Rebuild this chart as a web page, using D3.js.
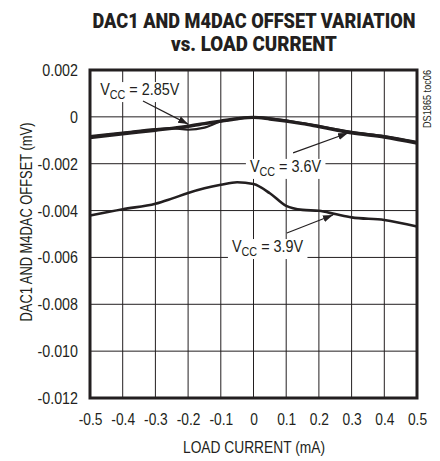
<!DOCTYPE html>
<html>
<head>
<meta charset="utf-8">
<script src="https://cdn.jsdelivr.net/npm/d3@7"></script>
<style>
  body { margin: 0; background: #fff; }
  text { font-family: "Liberation Sans", Arial, sans-serif; fill: #231f20; }
</style>
</head>
<body>
<div id="chart"></div>
<script>
// data
var loadCurrent = [-0.5, -0.4, -0.3, -0.25, -0.2, -0.15, -0.1, -0.05, 0, 0.05, 0.1, 0.15, 0.2, 0.25, 0.3, 0.4, 0.5];
var vcc285 = [-0.00082, -0.00067, -0.00052, -0.00048, -0.00055, -0.00046, -0.00020, -0.00008, -0.00001, -0.00006, -0.00015, -0.00027, -0.00038, -0.00052, -0.00064, -0.00082, -0.00107];
var vcc36  = [-0.00088, -0.00072, -0.00057, -0.00049, -0.00040, -0.00029, -0.00018, -0.00008, -0.00002, -0.00009, -0.00018, -0.00029, -0.00042, -0.00055, -0.00068, -0.00086, -0.00112];
var vcc39  = [-0.00421, -0.00394, -0.00371, -0.00349, -0.00325, -0.00305, -0.00290, -0.00279, -0.00287, -0.00326, -0.00380, -0.00397, -0.00401, -0.00415, -0.00429, -0.00440, -0.00468];
var xTicks = [-0.5, -0.4, -0.3, -0.2, -0.1, 0, 0.1, 0.2, 0.3, 0.4, 0.5];
var yTicks = [0.002, 0, -0.002, -0.004, -0.006, -0.008, -0.010, -0.012];
var yTickLabels = ["0.002", "0", "-0.002", "-0.004", "-0.006", "-0.008", "-0.010", "-0.012"];

// set the dimensions and margins of the graph
var margin = {top: 70, right: 23, bottom: 63, left: 90},
    width = 440 - margin.left - margin.right,
    height = 461 - margin.top - margin.bottom;

var svg0 = d3.select("#chart")
  .append("svg")
    .attr("width", 440)
    .attr("height", 461);

var svg = svg0.append("g")
    .attr("transform", "translate(" + margin.left + "," + margin.top + ")");

var x = d3.scaleLinear().domain([-0.5, 0.5]).range([0, width]);
var y = d3.scaleLinear().domain([-0.012, 0.002]).range([height, 0]);

// squeeze text to look like a condensed face
function condense(sel, k) {
  sel.each(function() {
    var w = this.getComputedTextLength();
    d3.select(this).attr("textLength", w * k).attr("lengthAdjust", "spacingAndGlyphs");
  });
}

// title, squeezed with a transform so its box stays inside the page
function titleLine(txt, ty, w) {
  var g = svg0.append("g");
  var t = g.append("text")
    .attr("text-anchor", "middle")
    .style("font-family", "Roboto, sans-serif")
    .style("font-size", "21px").style("font-weight", "900")
    .text(txt);
  var k = w / t.node().getComputedTextLength();
  g.attr("transform", "translate(254," + ty + ") scale(" + k + ",1)");
}
titleLine("DAC1 AND M4DAC OFFSET VARIATION", 28, 323);
titleLine("vs. LOAD CURRENT", 51, 166);

// grid
svg.append("g")
  .selectAll("line")
  .data(xTicks)
  .enter()
  .append("line")
    .attr("x1", function(d) { return x(d); })
    .attr("x2", function(d) { return x(d); })
    .attr("y1", 0).attr("y2", height)
    .style("stroke", "#231f20").style("stroke-width", 1);
svg.append("g")
  .selectAll("line")
  .data(yTicks)
  .enter()
  .append("line")
    .attr("x1", 0).attr("x2", width)
    .attr("y1", function(d) { return y(d); })
    .attr("y2", function(d) { return y(d); })
    .style("stroke", "#231f20").style("stroke-width", 1);

// axes (labels only)
var xAxis = svg.append("g")
  .attr("transform", "translate(0," + height + ")")
  .call(d3.axisBottom(x).tickValues(xTicks).tickSize(0).tickPadding(16)
    .tickFormat(function(d) { return d === 0 ? "0" : d3.format(".1f")(d).replace("−", "-"); }));
xAxis.select(".domain").remove();
xAxis.attr("font-family", null).attr("font-size", null);
xAxis.selectAll("text").style("font-size", "16px");
condense(xAxis.selectAll("text"), 0.86);

var yAxis = svg.append("g")
  .call(d3.axisLeft(y).tickValues(yTicks).tickSize(0).tickPadding(12)
    .tickFormat(function(d, i) { return yTickLabels[i]; }));
yAxis.select(".domain").remove();
yAxis.attr("font-family", null).attr("font-size", null);
yAxis.selectAll("text").style("font-size", "17px");
condense(yAxis.selectAll("text"), 0.84);

// axis titles
condense(svg0.append("text")
  .attr("x", 254).attr("y", 453)
  .attr("text-anchor", "middle")
  .style("font-size", "16px")
  .text("LOAD CURRENT (mA)"), 0.86);
svg0.append("text")
  .attr("transform", "translate(32,222) rotate(-90)")
  .attr("text-anchor", "middle")
  .style("font-size", "17px")
  .attr("textLength", 199).attr("lengthAdjust", "spacingAndGlyphs")
  .text("DAC1 AND M4DAC OFFSET (mV)");
svg0.append("text")
  .attr("transform", "translate(431,99) rotate(-90)")
  .attr("text-anchor", "middle")
  .style("font-size", "10px")
  .attr("textLength", 58).attr("lengthAdjust", "spacingAndGlyphs")
  .text("DS1865 toc06");

// curves
var line = d3.line()
  .x(function(d) { return x(d[0]); })
  .y(function(d) { return y(d[1]); })
  .curve(d3.curveMonotoneX);

[[vcc36, 3.4], [vcc285, 2.2], [vcc39, 2.6]].forEach(function(s) {
  svg.append("path")
    .datum(loadCurrent.map(function(c, i) { return [c, s[0][i]]; }))
    .attr("d", line)
    .style("fill", "none")
    .style("stroke", "#231f20")
    .style("stroke-width", s[1]);
});

// frame
svg.append("rect")
  .attr("x", 0).attr("y", 0)
  .attr("width", width).attr("height", height)
  .style("fill", "none").style("stroke", "#231f20").style("stroke-width", 3);

// labels with arrows
svg0.append("defs").append("marker")
  .attr("id", "arr").attr("viewBox", "0 0 10 10")
  .attr("refX", 10).attr("refY", 5)
  .attr("markerWidth", 10).attr("markerHeight", 10)
  .attr("markerUnits", "userSpaceOnUse")
  .attr("orient", "auto")
  .append("path").attr("d", "M0,1.5L10,5L0,8.5Z").style("fill", "#231f20");

var labels = [
  {v: "2.85V", lx: -0.469, ly: 0.00093, ax: [-0.338, -0.200], ay: [0.00068, -0.00031]},
  {v: "3.6V", lx: -0.011, ly: -0.00235, ax: [0.121, 0.289], ay: [-0.00154, -0.00069]},
  {v: "3.9V", lx: -0.066, ly: -0.00577, ax: [0.102, 0.243], ay: [-0.00496, -0.00419]}
];

labels.forEach(function(l) {
  var t = svg.append("text")
    .attr("x", x(l.lx)).attr("y", y(l.ly))
    .style("font-size", "16px");
  t.append("tspan").text("V");
  t.append("tspan").attr("dy", 4).style("font-size", "12px").text("CC");
  t.append("tspan").attr("dy", -4).text(" = " + l.v);
  condense(t, 0.9);
  var bb = t.node().getBBox();
  svg.insert("rect", function() { return t.node(); })
    .attr("x", bb.x - 4).attr("y", bb.y + 1)
    .attr("width", bb.width + 8).attr("height", bb.height - 1)
    .style("fill", "#fff");
  svg.append("line")
    .attr("x1", x(l.ax[0])).attr("y1", y(l.ay[0]))
    .attr("x2", x(l.ax[1])).attr("y2", y(l.ay[1]))
    .style("stroke", "#231f20").style("stroke-width", 1.2)
    .attr("marker-end", "url(#arr)");
});
</script>
</body>
</html>
